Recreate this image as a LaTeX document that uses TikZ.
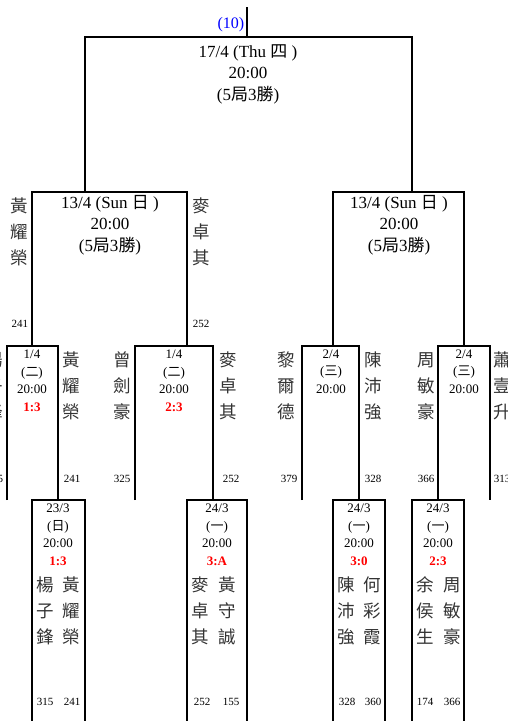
\documentclass[tikz,border=0pt]{standalone}
\usepackage{fontspec}
\setmainfont{Liberation Serif}
\newfontfamily\cjk{Noto Sans CJK TC}
\newcommand{\matchscore}[1]{\textcolor{red}{\textbf{#1}}}

\begin{document}
\begin{tikzpicture}[
        x=1pt, y=-1pt,
        bracket/.style={line width=2pt, line join=miter},
        bigtxt/.style={align=center, inner sep=0, anchor=base, font=\fontsize{17}{21.5}\selectfont},
        smalltxt/.style={align=center, inner sep=0, anchor=base, font=\fontsize{13}{17.5}\selectfont},
        player/.style={align=center, inner sep=0, anchor=base, text=black!80, font=\cjk\fontsize{17.5}{26}\selectfont},
        seed/.style={inner sep=0, anchor=base, font=\fontsize{11}{13}\selectfont}
        ]
        \useasboundingbox (0,0) rectangle (508,721);

        % Corners of the brackets
        \coordinate (top) at (247,7);
        \coordinate (bottom) at (0,725);
        \coordinate (f_l) at (85,37);
        \coordinate (f_r) at (412,37);
        \coordinate (sfl_l) at (32,192);
        \coordinate (sfl_r) at (187,192);
        \coordinate (sfr_l) at (333,192);
        \coordinate (sfr_r) at (464,192);
        \coordinate (qf1_l) at (7,346);
        \coordinate (qf1_r) at (58,346);
        \coordinate (qf2_l) at (135,346);
        \coordinate (qf2_r) at (213,346);
        \coordinate (qf3_l) at (302,346);
        \coordinate (qf3_r) at (359,346);
        \coordinate (qf4_l) at (438,346);
        \coordinate (qf4_r) at (490,346);
        \coordinate (r1a_l) at (32,500);
        \coordinate (r1a_r) at (85,500);
        \coordinate (r1b_l) at (187,500);
        \coordinate (r1b_r) at (247,500);
        \coordinate (r1c_l) at (333,500);
        \coordinate (r1c_r) at (385,500);
        \coordinate (r1d_l) at (412,500);
        \coordinate (r1d_r) at (464,500);

        % Match info (placed at the baseline of the last line)
        \node[anchor=base east, inner sep=0, text=blue, font=\fontsize{16}{18}\selectfont] (round_no) at (244.5,28.5) {(10)};
        \node[bigtxt] (f_info) at (248,100) {17/4 (Thu {\cjk 四} )\\20:00\\(5{\cjk 局}3{\cjk 勝})};
        \node[bigtxt] (sfl_info) at (110,251) {13/4 (Sun {\cjk 日} )\\20:00\\(5{\cjk 局}3{\cjk 勝})};
        \node[bigtxt] (sfr_info) at (399,251) {13/4 (Sun {\cjk 日} )\\20:00\\(5{\cjk 局}3{\cjk 勝})};
        \node[smalltxt] (qf1_info) at (32,411) {1/4\\({\cjk 二})\\20:00\\\matchscore{1:3}};
        \node[smalltxt] (qf2_info) at (174,411) {1/4\\({\cjk 二})\\20:00\\\matchscore{2:3}};
        \node[smalltxt] (qf3_info) at (331,393) {2/4\\({\cjk 三})\\20:00};
        \node[smalltxt] (qf4_info) at (464,393) {2/4\\({\cjk 三})\\20:00};
        \node[smalltxt] (r1a_info) at (58,565) {23/3\\({\cjk 日})\\20:00\\\matchscore{1:3}};
        \node[smalltxt] (r1b_info) at (217,565) {24/3\\({\cjk 一})\\20:00\\\matchscore{3:A}};
        \node[smalltxt] (r1c_info) at (359,565) {24/3\\({\cjk 一})\\20:00\\\matchscore{3:0}};
        \node[smalltxt] (r1d_info) at (438,565) {24/3\\({\cjk 一})\\20:00\\\matchscore{2:3}};

        % Players and seeds
        \node[player] (sfl_p1) at (19,264) {黃\\耀\\榮};
        \node[player] (sfl_p2) at (201,264) {麥\\卓\\其};
        \node[seed] (sfl_s1) at (20,327) {241};
        \node[seed] (sfl_s2) at (201,327) {252};

        \node[player] (qf1_p1) at (-6,418.5) {楊\\子\\鋒};
        \node[player] (qf1_p2) at (71,418.5) {黃\\耀\\榮};
        \node[player] (qf2_p1) at (122,418.5) {曾\\劍\\豪};
        \node[player] (qf2_p2) at (228,418.5) {麥\\卓\\其};
        \node[player] (qf3_p1) at (286,418.5) {黎\\爾\\德};
        \node[player] (qf3_p2) at (373,418.5) {陳\\沛\\強};
        \node[player] (qf4_p1) at (426,418.5) {周\\敏\\豪};
        \node[player] (qf4_p2) at (502,418.5) {蕭\\壹\\升};
        \node[seed] (qf1_s1) at (-5,482) {315};
        \node[seed] (qf1_s2) at (72,482) {241};
        \node[seed] (qf2_s1) at (122,482) {325};
        \node[seed] (qf2_s2) at (231,482) {252};
        \node[seed] (qf3_s1) at (289,482) {379};
        \node[seed] (qf3_s2) at (373,482) {328};
        \node[seed] (qf4_s1) at (426,482) {366};
        \node[seed] (qf4_s2) at (502,482) {313};

        \node[player] (r1a_p1) at (45,643) {楊\\子\\鋒};
        \node[player] (r1a_p2) at (71,643) {黃\\耀\\榮};
        \node[player] (r1b_p1) at (200,643) {麥\\卓\\其};
        \node[player] (r1b_p2) at (227,643) {黃\\守\\誠};
        \node[player] (r1c_p1) at (346,643) {陳\\沛\\強};
        \node[player] (r1c_p2) at (372,643) {何\\彩\\霞};
        \node[player] (r1d_p1) at (425,643) {余\\侯\\生};
        \node[player] (r1d_p2) at (452,643) {周\\敏\\豪};
        \node[seed] (r1a_s1) at (45,705.5) {315};
        \node[seed] (r1a_s2) at (72,705.5) {241};
        \node[seed] (r1b_s1) at (202,705.5) {252};
        \node[seed] (r1b_s2) at (231,705.5) {155};
        \node[seed] (r1c_s1) at (347,705.5) {328};
        \node[seed] (r1c_s2) at (373,705.5) {360};
        \node[seed] (r1d_s1) at (425,705.5) {174};
        \node[seed] (r1d_s2) at (452,705.5) {366};

        % Brackets
        \draw[bracket] (top) -- (top |- f_l);
        \draw[bracket] (f_l |- sfl_l) -- (f_l) -- (f_r) -- (f_r |- sfr_l);
        \draw[bracket] (sfl_l |- qf1_l) -- (sfl_l) -- (sfl_r) -- (sfl_r |- qf2_l);
        \draw[bracket] (sfr_l |- qf3_l) -- (sfr_l) -- (sfr_r) -- (sfr_r |- qf4_l);
        \draw[bracket] (qf1_l |- r1a_l) -- (qf1_l) -- (qf1_r) -- (qf1_r |- r1a_l);
        \draw[bracket] (qf2_l |- r1b_l) -- (qf2_l) -- (qf2_r) -- (qf2_r |- r1b_l);
        \draw[bracket] (qf3_l |- r1c_l) -- (qf3_l) -- (qf3_r) -- (qf3_r |- r1c_l);
        \draw[bracket] (qf4_l |- r1d_l) -- (qf4_l) -- (qf4_r) -- (qf4_r |- r1d_l);
        \draw[bracket] (r1a_l |- bottom) -- (r1a_l) -- (r1a_r) -- (r1a_r |- bottom);
        \draw[bracket] (r1b_l |- bottom) -- (r1b_l) -- (r1b_r) -- (r1b_r |- bottom);
        \draw[bracket] (r1c_l |- bottom) -- (r1c_l) -- (r1c_r) -- (r1c_r |- bottom);
        \draw[bracket] (r1d_l |- bottom) -- (r1d_l) -- (r1d_r) -- (r1d_r |- bottom);

\end{tikzpicture}
\end{document}
